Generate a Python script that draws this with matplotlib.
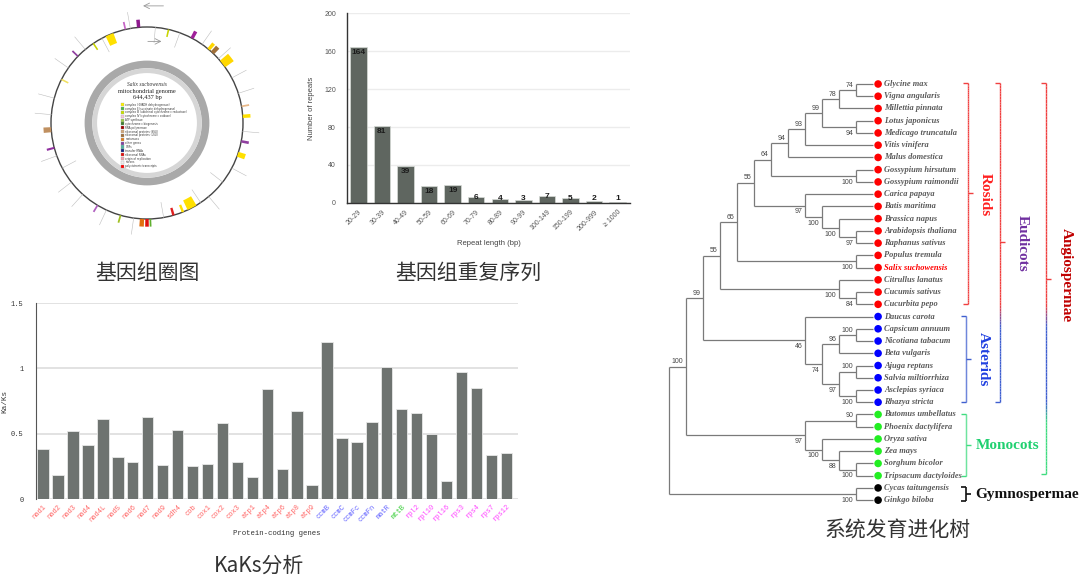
import numpy as np
import matplotlib.pyplot as plt
from matplotlib.patches import Wedge, Circle, Rectangle
from matplotlib.collections import LineCollection
from matplotlib.colors import to_rgb

W, H = 1080, 578

# ---------------- data ----------------
# repeat length distribution
rep_bins = ['20-29', '30-39', '40-49', '50-59', '60-69', '70-79', '80-89',
            '90-99', '100-149', '150-199', '200-999', '≥ 1000']
rep_counts = [164, 81, 39, 18, 19, 6, 4, 3, 7, 5, 2, 1]

# Ka/Ks per protein-coding gene, in four colour groups
ka_resp = ['nad1', 'nad2', 'nad3', 'nad4', 'nad4L', 'nad5', 'nad6', 'nad7', 'nad9',
           'sdh4', 'cob', 'cox1', 'cox2', 'cox3', 'atp1', 'atp4', 'atp6', 'atp8', 'atp9']
ka_ccm = ['ccmB', 'ccmC', 'ccmFc', 'ccmFn', 'matR']
ka_mtt = ['mttB']
ka_rib = ['rpl2', 'rpl10', 'rpl16', 'rps3', 'rps4', 'rps7', 'rps12']
ka_vals = [0.38, 0.18, 0.52, 0.41, 0.61, 0.32, 0.28, 0.63, 0.26,
           0.53, 0.25, 0.27, 0.58, 0.28, 0.17, 0.84, 0.23, 0.67, 0.11,
           1.20, 0.47, 0.44, 0.59, 1.01,
           0.69,
           0.66, 0.50, 0.14, 0.97, 0.85, 0.34, 0.35]

# genome map: gene blocks (degrees clockwise from top)
gene_deg = [355, 347, 13, 28, 337, 40, 43, 52, 80, 86, 101, 109, 152, 158, 164,
            178, 180, 183, 196, 211, 255, 266, 297, 314, 326]
gene_span = [2, 1, 1, 2, 5, 2, 2.5, 5, 1, 2, 1.5, 3, 6, 1.5, 1.5,
             1, 2, 2.5, 1, 1, 1.2, 3, 1, 1, 1]
gene_side = [1, 1, -1, 1, -1, 1, 1, 1, 1, 1, 1, 1, -1, -1, -1,
             1, 1, 1, 1, 1, 1, 1, -1, 1, -1]
gene_color = ['#8e1a8e', '#c565c5', '#c8d400', '#a0209a', '#ffe000', '#ffd700', '#a0703a',
              '#ffd700', '#e8b888', '#ffe000', '#9040a0', '#ffe000', '#ffe000', '#ffe000',
              '#e02020', '#60b030', '#e01010', '#e07010', '#a0c020', '#b060c0', '#9030a0',
              '#c09060', '#f0e060', '#9040a0', '#c8d400']
leader_deg = [350, 5, 20, 35, 48, 62, 72, 95, 118, 128, 140, 146, 170, 188, 205,
              222, 232, 242, 250, 275, 285, 305, 320, 332]
leader_side = [1, -1, -1, 1, 1, 1, 1, 1, 1, -1, 1, -1, -1, 1, 1,
               1, 1, -1, 1, 1, 1, 1, 1, -1]

legend_names = ['complex I (NADH dehydrogenase)', 'complex II (succinate dehydrogenase)',
                'complex III (ubichinol cytochrome c reductase)',
                'complex IV (cytochrome c oxidase)', 'ATP synthase',
                'cytochrome c biogenesis', 'RNA polymerase', 'ribosomal proteins (SSU)',
                'ribosomal proteins (LSU)', 'maturases', 'other genes', 'ORFs',
                'transfer RNAs', 'ribosomal RNAs', 'origin of replication', 'introns',
                'polycistronic transcripts']
legend_colors = ['#fff200', '#4cb848', '#c8e000', '#f4c8dc', '#9bcc4a', '#3e7d2f',
                 '#a00000', '#d2a679', '#a0703a', '#e08020', '#8040a0', '#50b0a0',
                 '#102080', '#e01010', '#f0a0b0', '#f0f0f0', '#ff0000']

# phylogeny: [child1, child2, bootstrap]
tree = [
    [
        [
            [
                [
                    [
                        [
                            [
                                [[['Glycine max', 'Vigna angularis', 74], 'Millettia pinnata', 78],
                                 ['Lotus japonicus', 'Medicago truncatula', 94], 99],
                                'Vitis vinifera', 93],
                            'Malus domestica', 94],
                        ['Gossypium hirsutum', 'Gossypium raimondii', 100], 64],
                    ['Carica papaya',
                     ['Batis maritima',
                      ['Brassica napus', ['Arabidopsis thaliana', 'Raphanus sativus', 97], 100],
                      100], 97],
                    55],
                ['Populus tremula', 'Salix suchowensis', 100], 65],
            ['Citrullus lanatus', ['Cucumis sativus', 'Cucurbita pepo', 84], 100], 55],
        ['Daucus carota',
         [[['Capsicum annuum', 'Nicotiana tabacum', 100], 'Beta vulgaris', 96],
          [['Ajuga reptans', 'Salvia miltiorrhiza', 100],
           ['Asclepias syriaca', 'Rhazya stricta', 100], 97], 74], 46],
        99],
    [['Butomus umbellatus', 'Phoenix dactylifera', 90],
     ['Oryza sativa', ['Zea mays', ['Sorghum bicolor', 'Tripsacum dactyloides', 100], 88], 100],
     97],
    100]
tree = [tree, ['Cycas taitungensis', 'Ginkgo biloba', 100], None]

n_rosids, n_asterids, n_monocots, n_gymno = 19, 8, 6, 2

fig = plt.figure(figsize=(W / 100, H / 100), dpi=100)
fig.patch.set_facecolor('white')


def px_axes(x0, y0, x1, y1):
    return fig.add_axes([x0 / W, 1 - y1 / H, (x1 - x0) / W, (y1 - y0) / H])


def caption(x, y, s):
    fig.text(x / W, 1 - y / H, s, ha='center', va='center', fontsize=15,
             family=['Noto Sans CJK SC', 'DejaVu Sans'], color='#333333')


# ---------------- genome map ----------------
gax = px_axes(27, 3, 267, 243)
gax.set_xlim(-1.25, 1.25)
gax.set_ylim(-1.25, 1.25)
gax.set_aspect('equal')
gax.axis('off')
for d, s in zip(leader_deg, leader_side):
    t = np.deg2rad(90 - d)
    r0, r1 = (1.0, 1.17) if s > 0 else (1.0, 0.84)
    gax.plot([r0 * np.cos(t), r1 * np.cos(t)], [r0 * np.sin(t), r1 * np.sin(t)],
             color='#bdbdbd', lw=0.4)
gax.add_patch(Circle((0, 0), 1, fill=False, ec='#444444', lw=1.0))
for d, sp, s, c in zip(gene_deg, gene_span, gene_side, gene_color):
    depth = 0.11 if sp >= 4 else 0.08
    r = 1 + depth if s > 0 else 1
    gax.add_patch(Wedge((0, 0), r, 90 - d - sp / 2, 90 - d + sp / 2, width=depth,
                        fc=c, ec='none'))
gax.add_patch(Wedge((0, 0), 0.65, 0, 360, width=0.08, fc='#a9a9a9', ec='none'))
gax.add_patch(Wedge((0, 0), 0.57, 0, 360, width=0.05, fc='#d6d6d6', ec='none'))
gax.annotate('', xy=(-0.07, 1.22), xytext=(0.2, 1.22),
             arrowprops=dict(arrowstyle='->', color='#999999', lw=0.6))
gax.annotate('', xy=(0.18, 0.85), xytext=(-0.02, 0.85),
             arrowprops=dict(arrowstyle='->', color='#999999', lw=0.6))
gax.text(0, 0.40, 'Salix suchowensis', ha='center', va='center', fontsize=4,
         style='italic', family='Liberation Serif', color='#333333')
gax.text(0, 0.33, 'mitochondrial genome', ha='center', va='center', fontsize=4.6,
         family='Liberation Serif', color='#222222')
gax.text(0, 0.27, '644,437 bp', ha='center', va='center', fontsize=4.6,
         family='Liberation Serif', color='#222222')
for i, (nm, c) in enumerate(zip(legend_names, legend_colors)):
    yy = 0.19 - i * 0.04
    gax.add_patch(Rectangle((-0.27, yy - 0.016), 0.032, 0.032, fc=c, ec='#999999', lw=0.2))
    gax.text(-0.225, yy, nm, fontsize=1.9, va='center', color='#333333')
caption(147, 273, '基因组圈图')

# ---------------- repeat lengths ----------------
rax = px_axes(347, 13, 630, 203)
xr = np.arange(len(rep_bins))
rax.bar(xr, rep_counts, width=0.7, color='#5f6660', edgecolor='#d8dcd8', lw=0.5, zorder=2)
rax.set_xlim(-0.48, 11.52)
rax.set_ylim(0, 200)
rax.set_yticks(range(0, 201, 40))
rax.yaxis.grid(True, color='#ececec', lw=1)
rax.set_axisbelow(True)
for sp in ['top', 'right']:
    rax.spines[sp].set_visible(False)
for sp in ['left', 'bottom']:
    rax.spines[sp].set_color('#333333')
    rax.spines[sp].set_linewidth(1.0)
rax.tick_params(length=0, labelsize=5, labelcolor='#555555', pad=8)
rax.set_xticks(xr)
rax.set_xticklabels(rep_bins, rotation=45, ha='right', rotation_mode='anchor',
                    family='Liberation Sans')
rax.tick_params(axis='x', pad=4)
for lab in rax.get_yticklabels():
    lab.set_family('Liberation Sans')
rax.set_ylabel('Number of repeats', fontsize=5.5, color='#444444', family='Liberation Sans')
rax.yaxis.set_label_coords((315 - 347) / 283, 0.5)
rax.set_xlabel('Repeat length (bp)', fontsize=5.5, color='#444444', family='Liberation Sans',
               labelpad=6)
for x, v in zip(xr, rep_counts):
    if v >= 15:
        rax.text(x, v - 2, str(v), ha='center', va='top', fontsize=6, weight='bold',
                 color='#1a1a1a', family='Liberation Sans', zorder=3)
    else:
        rax.text(x, max(v, 5), str(v), ha='center', va='center', fontsize=6, weight='bold',
                 color='#1a1a1a', family='Liberation Sans', zorder=3)
caption(468, 273, '基因组重复序列')

# ---------------- KaKs ----------------
ka_genes = ka_resp + ka_ccm + ka_mtt + ka_rib
ka_cols = (['#ff6262'] * len(ka_resp) + ['#6262ff'] * len(ka_ccm)
           + ['#33cc33'] * len(ka_mtt) + ['#ff44ff'] * len(ka_rib))
kax = px_axes(36, 303, 518, 499)
xk = np.arange(len(ka_genes))
kax.bar(xk, ka_vals, width=0.76, color='#6e7370', edgecolor='#e8e8e8', lw=0.6, zorder=2)
kax.set_xlim(-0.48, len(ka_genes) - 0.22)
kax.set_ylim(0, 1.5)
kax.set_yticks([0, 0.5, 1, 1.5])
kax.set_yticklabels(['0', '0.5', '1', '1.5'], family='Liberation Mono', fontsize=5,
                    color='#333333')
kax.yaxis.grid(True, color='#e2e2e2', lw=1.4)
kax.set_axisbelow(True)
for sp in ['top', 'right', 'bottom']:
    kax.spines[sp].set_visible(False)
kax.spines['left'].set_color('#555555')
kax.tick_params(length=0, pad=9)
kax.set_xticks(xk)
kax.set_xticklabels(ka_genes, rotation=45, ha='right', rotation_mode='anchor',
                    family='Liberation Mono', fontsize=5)
kax.tick_params(axis='x', pad=3)
for lab, c in zip(kax.get_xticklabels(), ka_cols):
    lab.set_color(c)
kax.set_ylabel('Ka/Ks', fontsize=5.5, family='Liberation Mono', color='#333333')
kax.yaxis.set_label_coords((8 - 36) / 482, 0.5)
kax.set_xlabel('Protein-coding genes', fontsize=5.3, family='Liberation Mono',
               color='#333333', labelpad=5)
caption(259, 566, 'KaKs分析')

# ---------------- phylogeny ----------------
LX, XS, LY, YS = 873, 17.0, 84, 12.24  # leaf column x, px per level, first leaf y, px per leaf
tax = px_axes(660, 60, 1080, 515)
tax.set_xlim((660 - LX) / XS, (1080 - LX) / XS)
tax.set_ylim((515 - LY) / YS, (60 - LY) / YS)
tax.axis('off')

leaves, segs, boots = [], [], []


def walk(node):
    if isinstance(node, str):
        leaves.append(node)
        return len(leaves) - 1, 0
    a, b, sup = node
    ya, ha = walk(a)
    yb, hb = walk(b)
    h = max(ha, hb) + 1
    segs.append([(-h, ya), (-h, yb)])
    segs.append([(-h, ya), (-ha, ya)])
    segs.append([(-h, yb), (-hb, yb)])
    if isinstance(a, list):
        boots.append((-ha, ya, a[2], True))
    if isinstance(b, list):
        boots.append((-hb, yb, b[2], False))
    return (ya + yb) / 2, h


walk(tree)
tax.add_collection(LineCollection(segs, colors='#7a7a7a', lw=0.9))
for x, y, s, up in boots:
    tax.annotate(str(s), (x, y), xytext=(-1.8, 1.0 if up else -2.0), textcoords='offset points',
                 ha='right', va='bottom' if up else 'top', fontsize=5, color='#444444',
                 family='Liberation Sans')

grp = (['#ff0000'] * n_rosids + ['#0000ff'] * n_asterids
       + ['#22ee22'] * n_monocots + ['#000000'] * n_gymno)
iy = np.arange(len(leaves))
tax.scatter(np.full(len(leaves), 0.3), iy, s=30, c=grp, zorder=3, linewidths=0)
for i, nm in enumerate(leaves):
    hot = nm == 'Salix suchowensis'
    tax.text(0.65, i, nm, va='center', ha='left', fontsize=6, style='italic', weight='bold',
             family='Liberation Serif', color='#ff0000' if hot else '#5a5a5a')

RED, BLUE, GREEN = '#f04040', '#4060d0', '#40dc80'


def bracket(x, y0, y1, stops, lw=1.0):
    sy = [s[0] for s in stops]
    sc = np.array([to_rgb(s[1]) for s in stops])

    def col(y):
        return tuple(np.interp(y, sy, sc[:, k]) for k in range(3))

    ys = np.linspace(y0, y1, 120)
    vs = [[(x, ys[k]), (x, ys[k + 1])] for k in range(len(ys) - 1)]
    cs = [col((ys[k] + ys[k + 1]) / 2) for k in range(len(ys) - 1)]
    ym = (y0 + y1) / 2
    vs += [[(x - 0.3, y0), (x, y0)], [(x - 0.3, y1), (x, y1)], [(x, ym), (x + 0.3, ym)]]
    cs += [col(y0), col(y1), col(ym)]
    tax.add_collection(LineCollection(vs, colors=cs, lw=lw, capstyle='butt'))


r_end = n_rosids - 1
a_beg, a_end = n_rosids, n_rosids + n_asterids - 1
m_beg, m_end = a_end + 1, a_end + n_monocots
g_beg, g_end = m_end + 1, m_end + n_gymno
bracket(5.57, -0.1, r_end - 0.05, [(0, RED), (1, RED)])
bracket(7.47, -0.1, a_end - 0.05, [(r_end, RED), (a_beg + 0.8, BLUE)])
bracket(10.16, -0.1, m_end - 0.1, [(r_end, RED), (a_beg + 0.8, BLUE),
                                   (a_end, BLUE), (m_beg + 0.6, GREEN)])
bracket(5.47, a_beg - 0.05, a_end - 0.05, [(0, BLUE), (1, BLUE)])
bracket(5.47, m_beg - 0.05, m_end, [(0, GREEN), (1, GREEN)])
bracket(5.45, g_beg - 0.1, g_end + 0.1, [(0, '#111111'), (1, '#111111')], lw=1.2)

bk = dict(fontsize=11, weight='bold', family='Liberation Serif', va='center')
tax.text(6.6, r_end / 2, 'Rosids', rotation=-90, ha='center', color='#ff2020', **bk)
tax.text(8.76, a_end / 2, 'Eudicots', rotation=-90, ha='center', color='#7030a0', **bk)
tax.text(11.35, 15.6, 'Angiospermae', rotation=-90, ha='center', color='#c00000', **bk)
tax.text(6.5, (a_beg + a_end) / 2, 'Asterids', rotation=-90, ha='center', color='#2040e0', **bk)
tax.text(6.06, (m_beg + m_end) / 2, 'Monocots', ha='left', color='#20d070', **bk)
tax.text(6.0, (g_beg + g_end) / 2, 'Gymnospermae', ha='left', color='#111111', **bk)
caption(898, 530, '系统发育进化树')

fig.savefig('out.png', dpi=100, facecolor='white')
